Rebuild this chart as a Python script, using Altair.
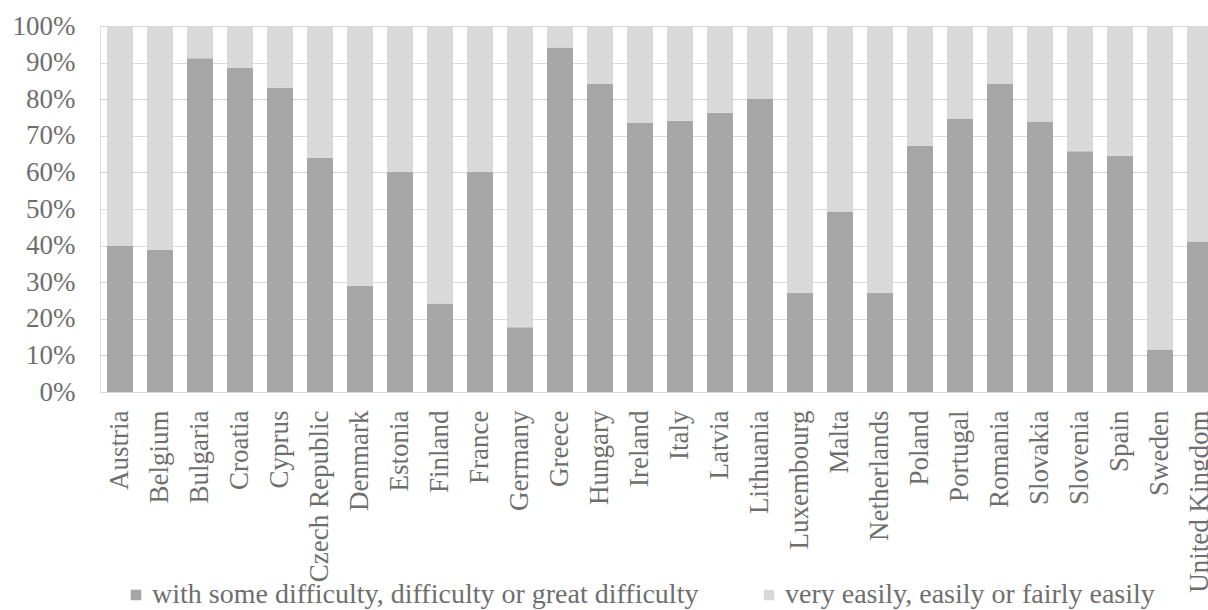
import altair as alt
import pandas as pd

countries = ["Austria", "Belgium", "Bulgaria", "Croatia", "Cyprus", "Czech Republic",
             "Denmark", "Estonia", "Finland", "France", "Germany", "Greece", "Hungary",
             "Ireland", "Italy", "Latvia", "Lithuania", "Luxembourg", "Malta",
             "Netherlands", "Poland", "Portugal", "Romania", "Slovakia", "Slovenia",
             "Spain", "Sweden", "United Kingdom"]
difficulty = [39.9, 38.8, 91.2, 88.6, 83.1, 64.0, 29.0, 60.2, 24.2, 60.2, 17.7, 94.1,
              84.2, 73.6, 74.1, 76.3, 80.2, 27.1, 49.3, 27.1, 67.2, 74.6, 84.3, 73.9,
              65.8, 64.5, 11.5, 41.1]
series = ["with some difficulty, difficulty or great difficulty",
          "very easily, easily or fairly easily"]
colors = ["#a6a6a6", "#d9d9d9"]

rows = []
for c, d in zip(countries, difficulty):
    rows.append({"country": c, "series": series[0], "value": d / 100, "order": 0})
    rows.append({"country": c, "series": series[1], "value": (100 - d) / 100, "order": 1})
df = pd.DataFrame(rows)

FONT = "Liberation Serif"
TXT = "#6e6e6e"

chart = alt.Chart(df).mark_bar().encode(
    x=alt.X("country:N", sort=countries,
            scale=alt.Scale(range=[0, 1120], paddingInner=0.35, paddingOuter=0.175),
            axis=alt.Axis(title=None, labelAngle=-90, labelAlign="right",
                          labelBaseline="middle", labelPadding=18,
                          ticks=False, domainColor="#d9d9d9", labelFont=FONT,
                          labelFontSize=27, labelColor=TXT, labelOverlap=False,
                          labelLimit=0)),
    y=alt.Y("value:Q", stack="zero",
            scale=alt.Scale(domain=[0, 1], nice=False),
            axis=alt.Axis(title=None, format=".0%", values=[i / 10 for i in range(11)],
                          ticks=False, domain=False, gridColor="#d9d9d9",
                          labelFont=FONT, labelFontSize=27, labelColor=TXT,
                          labelPadding=25)),
    color=alt.Color("series:N", sort=series,
                    scale=alt.Scale(domain=series, range=colors),
                    legend=alt.Legend(title=None, orient="none", direction="horizontal",
                                      legendX=22, legendY=555, symbolType="square",
                                      symbolSize=110, symbolStrokeWidth=0,
                                      labelOffset=2,
                                      labelFont=FONT, labelFontSize=28, labelColor=TXT,
                                      columnPadding=56, labelLimit=0)),
    order=alt.Order("order:Q"),
).properties(
    width=1108, height=366,
    autosize=alt.AutoSizeParams(type="none"),
    padding={"left": 100, "top": 26, "right": 0, "bottom": 218},
).configure_view(stroke=None).configure(background="white")

chart.save("out.html", embed_options={"renderer": "svg", "actions": False})
